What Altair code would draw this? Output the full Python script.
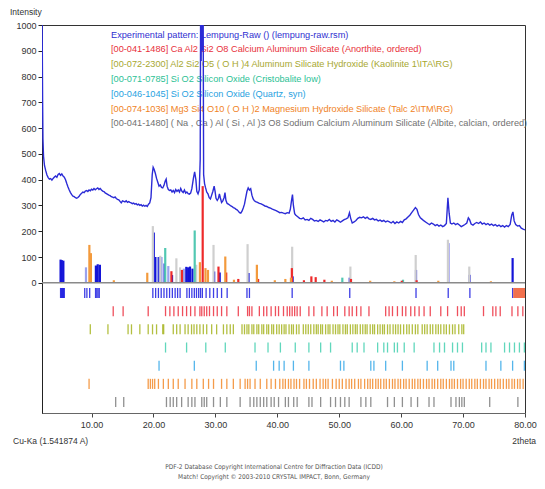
import altair as alt
import pandas as pd

# ---------------- experimental pattern (2theta, intensity) ----------------
pat_theta = [2.00, 2.05, 2.10, 2.15, 2.25, 2.40, 2.60, 2.80, 3.00, 3.20, 3.40, 3.60, 3.80, 4.00, 4.20, 4.40, 4.60, 4.80,
             5.00, 5.20, 5.40, 5.60, 5.80, 6.00, 6.20, 6.40, 6.60, 6.80, 7.00, 7.20, 7.40, 7.60, 7.80, 8.00, 8.20, 8.40,
             8.60, 8.80, 9.00, 9.20, 9.40, 9.60, 9.80, 10.00, 10.20, 10.40, 10.60, 10.80, 11.00, 11.20, 11.40, 11.60,
             11.80, 12.00, 12.20, 12.40, 12.60, 12.80, 13.00, 13.20, 13.40, 13.60, 13.80, 14.00, 14.20, 14.40, 14.60,
             14.80, 15.00, 15.20, 15.40, 15.60, 15.80, 16.00, 16.20, 16.40, 16.60, 16.80, 17.00, 17.20, 17.40, 17.60,
             17.80, 18.00, 18.20, 18.40, 18.60, 18.80, 19.00, 19.20, 19.40, 19.60, 19.80, 19.95, 20.10, 20.30, 20.50,
             20.70, 20.90, 21.10, 21.30, 21.50, 21.70, 21.90, 22.05, 22.20, 22.40, 22.60, 22.80, 23.00, 23.20, 23.40,
             23.60, 23.80, 24.00, 24.20, 24.40, 24.60, 24.80, 25.00, 25.20, 25.40, 25.60, 25.80, 26.00, 26.20, 26.45,
             26.65, 26.85, 27.00, 27.20, 27.40, 27.55, 27.62, 27.70, 27.78, 27.86, 27.94, 28.02, 28.10, 28.25, 28.40,
             28.60, 28.80, 29.00, 29.20, 29.40, 29.60, 29.80, 29.95, 30.10, 30.30, 30.50, 30.65, 30.80, 31.00, 31.20,
             31.40, 31.55, 31.70, 31.90, 32.10, 32.30, 32.50, 32.70, 32.90, 33.10, 33.30, 33.50, 33.70, 33.90, 34.10,
             34.30, 34.50, 34.70, 34.90, 35.10, 35.30, 35.50, 35.70, 35.90, 36.10, 36.30, 36.50, 36.80, 37.10, 37.40,
             37.70, 38.00, 38.30, 38.60, 38.90, 39.20, 39.50, 39.80, 40.10, 40.40, 40.70, 41.00, 41.30, 41.60, 41.90,
             42.10, 42.30, 42.45, 42.60, 42.80, 43.00, 43.30, 43.60, 43.90, 44.20, 44.50, 44.80, 45.10, 45.40, 45.70,
             46.00, 46.30, 46.60, 46.90, 47.20, 47.50, 47.80, 48.10, 48.40, 48.70, 49.00, 49.30, 49.60, 49.90, 50.20,
             50.50, 50.80, 51.10, 51.40, 51.65, 51.85, 52.10, 52.40, 52.70, 53.00, 53.30, 53.60, 53.90, 54.20, 54.50,
             54.80, 55.10, 55.40, 55.70, 56.00, 56.30, 56.60, 56.90, 57.20, 57.50, 57.80, 58.10, 58.40, 58.70, 59.00,
             59.30, 59.60, 59.90, 60.20, 60.50, 60.80, 61.10, 61.40, 61.70, 62.00, 62.30, 62.55, 62.80, 63.10, 63.40,
             63.70, 64.00, 64.30, 64.60, 64.90, 65.20, 65.50, 65.80, 66.10, 66.40, 66.70, 67.00, 67.30, 67.55, 67.75,
             67.95, 68.20, 68.50, 68.80, 69.10, 69.40, 69.70, 70.00, 70.30, 70.60, 70.85, 71.05, 71.30, 71.60, 71.90,
             72.20, 72.50, 72.80, 73.10, 73.40, 73.70, 74.00, 74.30, 74.60, 74.90, 75.20, 75.50, 75.80, 76.10, 76.40,
             76.70, 77.00, 77.30, 77.60, 77.85, 78.05, 78.25, 78.50, 78.80, 79.10, 79.40, 79.70, 80.00]
pat_int = [1100, 900, 700, 560, 490, 455, 435, 418, 408, 402, 404, 398, 405, 410, 414, 409, 420, 424,
           417, 422, 414, 410, 400, 385, 372, 360, 350, 342, 336, 334, 330, 328, 331, 336, 343, 347,
           352, 350, 356, 358, 354, 360, 357, 363, 360, 366, 361, 365, 368, 362, 366, 360,
           356, 354, 349, 346, 343, 340, 338, 334, 332, 330, 333, 327, 324, 322, 316,
           310, 318, 316, 314, 318, 312, 315, 312, 310, 307, 309, 305, 307, 302, 305,
           300, 303, 298, 301, 297, 300, 296, 305, 310, 330, 420, 448, 440, 425, 405,
           390, 375, 380, 370, 368, 378, 395, 402, 375, 362, 358, 360, 352, 358, 350,
           362, 355, 360, 352, 366, 355, 350, 360, 348, 352, 346, 344, 348, 365, 405,
           430, 400, 355, 345, 360, 480, 1100, 860, 1100, 900, 1100, 1100, 420, 385, 370,
           352, 345, 330, 325, 340, 355, 375, 355, 328, 320, 328, 345, 330, 312, 318,
           330, 350, 320, 308, 305, 302, 298, 296, 292, 290, 286, 283, 278, 272, 270,
           278, 290, 305, 330, 355, 368, 360, 365, 340, 325, 318, 315, 312, 308, 306,
           302, 298, 296, 292, 290, 286, 283, 280, 276, 272, 273, 270, 268, 272, 270,
           285, 320, 342, 300, 268, 262, 256, 250, 248, 252, 244, 246, 242, 250, 246,
           240, 242, 238, 244, 240, 236, 242, 240, 246, 238, 242, 236, 244, 240, 235,
           240, 245, 248, 252, 272, 250, 232, 236, 242, 250, 254, 252, 256, 250, 255,
           248, 246, 250, 244, 246, 240, 243, 238, 242, 236, 240, 236, 232, 238, 230,
           236, 232, 238, 234, 244, 248, 255, 262, 272, 282, 292, 285, 265, 252, 246,
           240, 235, 230, 226, 232, 228, 222, 226, 220, 224, 218, 222, 230, 330, 270,
           232, 228, 232, 226, 230, 224, 218, 222, 226, 232, 252, 245, 228, 224, 230,
           234, 230, 236, 228, 232, 226, 230, 224, 228, 222, 226, 220, 224, 218, 222,
           216, 222, 218, 226, 262, 275, 240, 226, 220, 222, 212, 208, 205]

# ---------------- peak sticks above zero ----------------
stick_theta = [5.0, 5.2, 5.45, 10.7, 11.0, 11.35, 20.05, 20.4, 20.85, 21.8, 23.0, 25.3, 25.6, 25.9, 26.3,
               29.8, 30.7, 35.35, 42.5, 51.7, 62.4, 67.6, 71.05, 78.0,
               9.1, 20.6, 21.3, 22.4, 24.9,
               19.9, 21.1, 23.7, 29.7, 35.2, 42.4, 51.8, 62.35, 67.55, 71.0, 24.3, 26.9,
               21.9, 26.66, 50.5, 60.3,
               22.9, 24.6, 27.95, 30.5, 31.75, 33.7, 36.9, 42.35, 45.5, 46.2, 47.6, 51.9, 60.1, 62.5, 44.3,
               9.65, 9.9, 13.6, 19.0, 27.5, 28.4, 28.8, 31.6, 36.7, 41.3, 42.2, 33.0, 39.6, 48.8, 55.0, 58.9, 66.0, 74.5]
stick_int = [90, 88, 86, 67, 72, 70, 195, 100, 100, 75, 30, 62, 60, 63, 55,
             44, 40, 38, 25, 20, 50, 154, 31, 96,
             60, 100, 100, 65, 55,
             220, 105, 95, 147, 150, 140, 63, 108, 167, 63, 60, 70,
             135, 203, 20, 12,
             45, 50, 375, 63, 40, 15, 15, 57, 25, 22, 12, 15, 8, 10, 10,
             147, 115, 10, 39, 80, 57, 50, 102, 70, 15, 20, 12, 10, 8, 8, 6, 8, 6]
stick_phase = (["exp"] * 24 + ["exp_light"] * 5 + ["albite_light"] * 12 + ["cristobalite"] * 4 +
               ["anorthite"] * 15 + ["talc"] * 18)

# ---------------- reference line positions (rows below zero) ----------------
exp_pos = [5.0, 5.1, 5.2, 5.3, 5.4, 5.5, 5.6, 8.9, 9.25, 9.7, 10.65, 10.85, 11.05, 11.25, 19.9, 20.35, 20.8,
           21.25, 21.7, 22.15, 22.6, 23.05, 23.5, 23.9, 24.3, 25.4, 25.8, 26.2, 26.6, 26.95, 27.3, 27.6, 27.9,
           28.5, 29.1, 29.7, 30.3, 31.0, 31.9, 35.1, 35.5, 42.4, 51.7, 62.4, 67.6, 71.1, 78.0]
exp_block = [78.1, 80.0]
anorthite_pos = [13.5, 15.1, 19.15, 21.95, 22.65, 23.3, 24.0, 24.7, 25.35, 26.0, 26.7, 27.5, 27.8, 28.2, 28.6,
                 29.05, 29.7, 30.3, 31.0, 31.85, 33.7, 35.2, 35.5, 35.9, 37.1, 37.8, 38.3, 39.0, 39.7, 40.2, 41.0,
                 41.6, 42.0, 42.4, 42.8, 43.2, 43.7, 45.1, 45.9, 47.2, 48.05, 49.1, 49.7, 50.9, 51.6, 52.1, 52.8,
                 53.5, 54.8, 57.5, 58.05, 58.6, 59.4, 60.2, 60.75, 61.55, 62.2, 62.9, 63.7, 64.7, 66.4, 67.5, 69.1,
                 69.7, 70.2, 73.3, 74.8, 75.3, 76.0, 77.9, 78.85, 79.65]
kaolinite_pos = [9.8, 12.65, 15.9, 16.45, 17.8, 19.15, 19.85, 20.5, 21.5, 21.65, 23.2, 23.75, 24.3, 25.1, 25.6,
                 26.15, 26.55, 27.0, 27.5, 28.05, 28.6, 29.4, 30.2, 31.3, 31.85, 32.4, 32.9, 34.3, 34.7, 35.1,
                 35.4, 35.9, 36.2, 36.7, 37.0, 37.5, 37.8, 38.3, 38.6, 39.1, 39.4, 39.9, 40.3, 40.7, 41.1, 41.4,
                 41.9, 42.3, 42.6, 43.1, 43.5, 44.2, 44.6, 45.0, 45.4, 45.9, 46.3, 46.6, 47.0, 47.3, 47.8, 48.2,
                 48.5, 49.0, 49.4, 49.8, 50.1, 50.6, 51.0, 51.3, 51.8, 52.2, 52.6, 52.9, 53.4, 53.8, 54.2, 54.5,
                 55.0, 55.4, 55.7, 56.2, 56.6, 57.0, 57.3, 57.8, 58.2, 58.7, 59.1, 59.5, 59.9, 60.4, 60.9, 61.3,
                 61.8, 62.3, 62.7, 63.4, 63.8, 64.2, 64.7, 65.1, 65.6, 66.0, 66.4, 66.9, 67.3, 67.8, 68.3, 68.7,
                 69.3, 69.8, 70.1]
cristobalite_pos = [21.95, 25.35, 28.45, 31.6, 36.4, 38.5, 40.5, 42.9, 45.1, 47.0, 48.6, 52.1, 52.9, 54.0,
                    56.2, 57.2, 57.8, 58.9, 59.4, 60.5, 62.1, 65.3, 66.2, 67.0, 68.3, 69.1, 69.9, 73.0, 73.7,
                    74.5, 76.7, 77.5, 78.3, 79.1, 79.9]
quartz_pos = [20.9, 26.6, 36.6, 39.4, 40.3, 41.1, 42.6, 45.1, 50.2, 50.75, 55.1, 55.6, 57.5, 60.2, 64.2, 65.9,
              68.05, 68.5, 73.7, 76.1, 78.0, 79.9]
talc_pos = [9.6, 19.15, 19.5, 19.85, 20.2, 20.8, 21.6, 22.4, 23.2, 24.0, 25.1, 26.2, 27.0, 28.05, 28.9, 29.7,
            31.0, 31.85, 32.9, 34.0, 34.8, 35.2, 35.6, 36.4, 37.25, 38.3, 39.0, 39.7, 40.4, 40.9, 41.3, 41.8,
            42.2, 42.7, 43.1, 43.6, 44.3, 44.7, 45.2, 45.8, 46.3, 46.9, 47.4, 47.8, 48.2, 48.9, 49.5, 50.0,
            50.5, 51.1, 51.6, 52.0, 52.5, 53.1, 53.5, 54.1, 54.6, 55.0, 55.4, 55.9, 56.3, 56.7, 57.2, 57.6,
            58.1, 58.6, 59.0, 59.5, 59.9, 60.4, 60.8, 61.3, 61.8, 62.2, 62.7, 63.1, 63.6, 64.1, 64.5, 65.0,
            65.4, 65.9, 66.4, 66.8, 67.3, 67.8, 68.2, 68.6, 69.1, 69.6, 70.0, 70.5, 71.0, 71.4, 71.9, 72.3,
            72.8, 73.3, 73.7, 74.2, 74.6, 75.1, 75.6, 76.0, 76.5, 77.0, 77.4, 77.9, 78.3, 78.8, 79.2, 79.7]
albite_pos = [13.9, 15.2, 22.1, 22.7, 23.2, 23.75, 24.55, 25.6, 26.2, 26.7, 27.8, 28.2, 28.6, 29.7, 30.8,
              31.85, 34.0, 35.6, 36.2, 36.7, 37.25, 37.8, 38.3, 39.0, 39.5, 40.2, 41.3, 41.8, 42.65, 43.2,
              45.1, 45.6, 47.0, 48.6, 49.4, 50.2, 50.9, 51.6, 53.5, 54.3, 55.1, 57.8, 58.9, 60.2, 61.6,
              62.65, 64.5, 65.3, 68.05, 68.85, 69.4, 69.8, 70.2, 74.3, 78.85]

# ---------------- texts ----------------
legend_lines = [
    "Experimental pattern: Lempung-Raw () (lempung-raw.rsm)",
    "[00-041-1486] Ca Al2 Si2 O8 Calcium Aluminum Silicate (Anorthite, ordered)",
    "[00-072-2300] Al2 Si2 O5 ( O H )4 Aluminum Silicate Hydroxide (Kaolinite 1\\ITA\\RG)",
    "[00-071-0785] Si O2 Silicon Oxide (Cristobalite low)",
    "[00-046-1045] Si O2 Silicon Oxide (Quartz, syn)",
    "[00-074-1036] Mg3 Si4 O10 ( O H )2 Magnesium Hydroxide Silicate (Talc 2\\ITM\\RG)",
    "[00-041-1480] ( Na , Ca ) Al ( Si , Al )3 O8 Sodium Calcium Aluminum Silicate (Albite, calcian, ordered)",
]
copyright_lines = [
    "PDF-2 Database Copyright International Centre for Diffraction Data (ICDD)",
    "Match! Copyright \u00a9 2003-2010 CRYSTAL IMPACT, Bonn, Germany",
]
x_ticks = [10, 20, 30, 40, 50, 60, 70, 80]
y_ticks = [0, 100, 200, 300, 400, 500, 600, 700, 800, 900, 1000]

# ---------------- styles ----------------
row_names = ["exp", "anorthite", "kaolinite", "cristobalite", "quartz", "talc", "albite"]
row_colors = ["#1c1ce0", "#ec3040", "#a6b41e", "#45d0b0", "#36a8e8", "#f28a2a", "#7c7c7c"]
legend_colors = ["#2f2fd0", "#e8303a", "#a8a830", "#2cbf95", "#28a2df", "#f0821e", "#707070"]
stick_keys = ["exp", "exp_light", "albite_light", "cristobalite", "anorthite", "talc"]
stick_colors = ["#1414d8", "#9aa2ee", "#cfcfcf", "#52c8b2", "#ee2a2a", "#f39a3c"]
ROW_TOP0, ROW_STEP, ROW_LEN = -20, 70.5, 39
Y_MIN, Y_MAX, X_MIN, X_MAX = -505, 1000, 2, 80
W, H = 483, 388
FONT = "Liberation Sans"
LEG_FONT = "Liberation Sans"

pat_df = pd.DataFrame({"theta": pat_theta, "I": pat_int})
stick_df = pd.DataFrame({"theta": stick_theta, "I": stick_int, "phase": stick_phase, "base": 0})

rows = []
for k, (name, pos) in enumerate(zip(row_names, [exp_pos, anorthite_pos, kaolinite_pos, cristobalite_pos,
                                                 quartz_pos, talc_pos, albite_pos])):
    top = ROW_TOP0 - k * ROW_STEP
    for p in pos:
        rows.append({"theta": p, "I": top, "bot": top - ROW_LEN, "row": name})
row_df = pd.DataFrame(rows)
block_df = pd.DataFrame({"theta": [exp_block[0]], "x2": [exp_block[1]],
                         "I": [ROW_TOP0], "bot": [ROW_TOP0 - ROW_LEN]})
zero_df = pd.DataFrame({"I": [0]})

xs = alt.Scale(domain=[X_MIN, X_MAX], nice=False, zero=False)
ys = alt.Scale(domain=[Y_MIN, Y_MAX], nice=False, zero=False)

x_axis = alt.Axis(values=x_ticks, format=".2f", title=None, grid=False, tickSize=4, labelFontSize=9,
                  labelFont=FONT, labelColor="#333", domainColor="#666", tickColor="#444", labelPadding=3,
                  labelOverlap=False, labelFlush=False)
y_axis = alt.Axis(values=y_ticks, format="d", title=None, grid=False, tickSize=4, labelFontSize=9,
                  labelFont=FONT, labelColor="#333", domainColor="#222", tickColor="#222", labelPadding=2,
                  labelOverlap=False, labelFlush=False)

X = alt.X("theta:Q", scale=xs, axis=x_axis)
Y = alt.Y("I:Q", scale=ys, axis=y_axis)

sticks = alt.Chart(stick_df).mark_rule(strokeWidth=2.2).encode(
    x=X, y=Y, y2="base:Q",
    color=alt.Color("phase:N", scale=alt.Scale(domain=stick_keys, range=stick_colors), legend=None),
)

zero_line = alt.Chart(zero_df).mark_rule(color="#8a8a8a", strokeWidth=1.5).encode(y=Y)

row_ticks = alt.Chart(row_df).mark_rule(strokeWidth=1.3, opacity=0.85).encode(
    x=X, y=Y, y2="bot:Q",
    stroke=alt.Stroke("row:N", scale=alt.Scale(domain=row_names, range=row_colors), legend=None),
)

block = alt.Chart(block_df).mark_rect(color="#f0603a", opacity=0.9).encode(
    x=X, x2="x2:Q", y=Y, y2="bot:Q"
)

line = alt.Chart(pat_df).mark_line(color="#2b2bd6", strokeWidth=1.4, clip=True, interpolate="linear").encode(
    x=X, y=Y,
)

layers = [sticks, zero_line, row_ticks, block]

for i, (txt, col) in enumerate(zip(legend_lines, legend_colors)):
    layers.append(alt.Chart(pat_df.head(1)).mark_text(
        text=txt, color=col, font=LEG_FONT, fontSize=9.2, align="left", baseline="middle"
    ).encode(x=alt.value(69), y=alt.value(9.5 + i * 14.8)))

layers.append(line)

extra = [
    ("Intensity", -32, -13, "left", FONT, 8.5, "#333"),
    ("Cu-Ka (1.541874 A)", -29, 416, "left", FONT, 8.5, "#333"),
    ("2theta", 494, 416, "right", FONT, 8.5, "#333"),
    (copyright_lines[0], 232, 442, "center", "DejaVu Sans Condensed, sans-serif", 6.5, "#555"),
    (copyright_lines[1], 232, 452, "center", "DejaVu Sans Condensed, sans-serif", 6.5, "#555"),
]
for txt, xv, yv, al, fnt, fs, col in extra:
    layers.append(alt.Chart(pat_df.head(1)).mark_text(
        text=txt, color=col, font=fnt, fontSize=fs, align=al, baseline="middle"
    ).encode(x=alt.value(xv), y=alt.value(yv)))

chart = alt.layer(*layers).resolve_scale(color="independent", stroke="independent").properties(
    width=W, height=H,
    autosize=alt.AutoSizeParams(type="none"),
    padding={"left": 34, "top": 17, "right": 12, "bottom": 74},
    background="white",
).configure_view(stroke="#333", strokeWidth=1)

chart.save("out.html", embed_options={"renderer": "svg", "actions": False})
